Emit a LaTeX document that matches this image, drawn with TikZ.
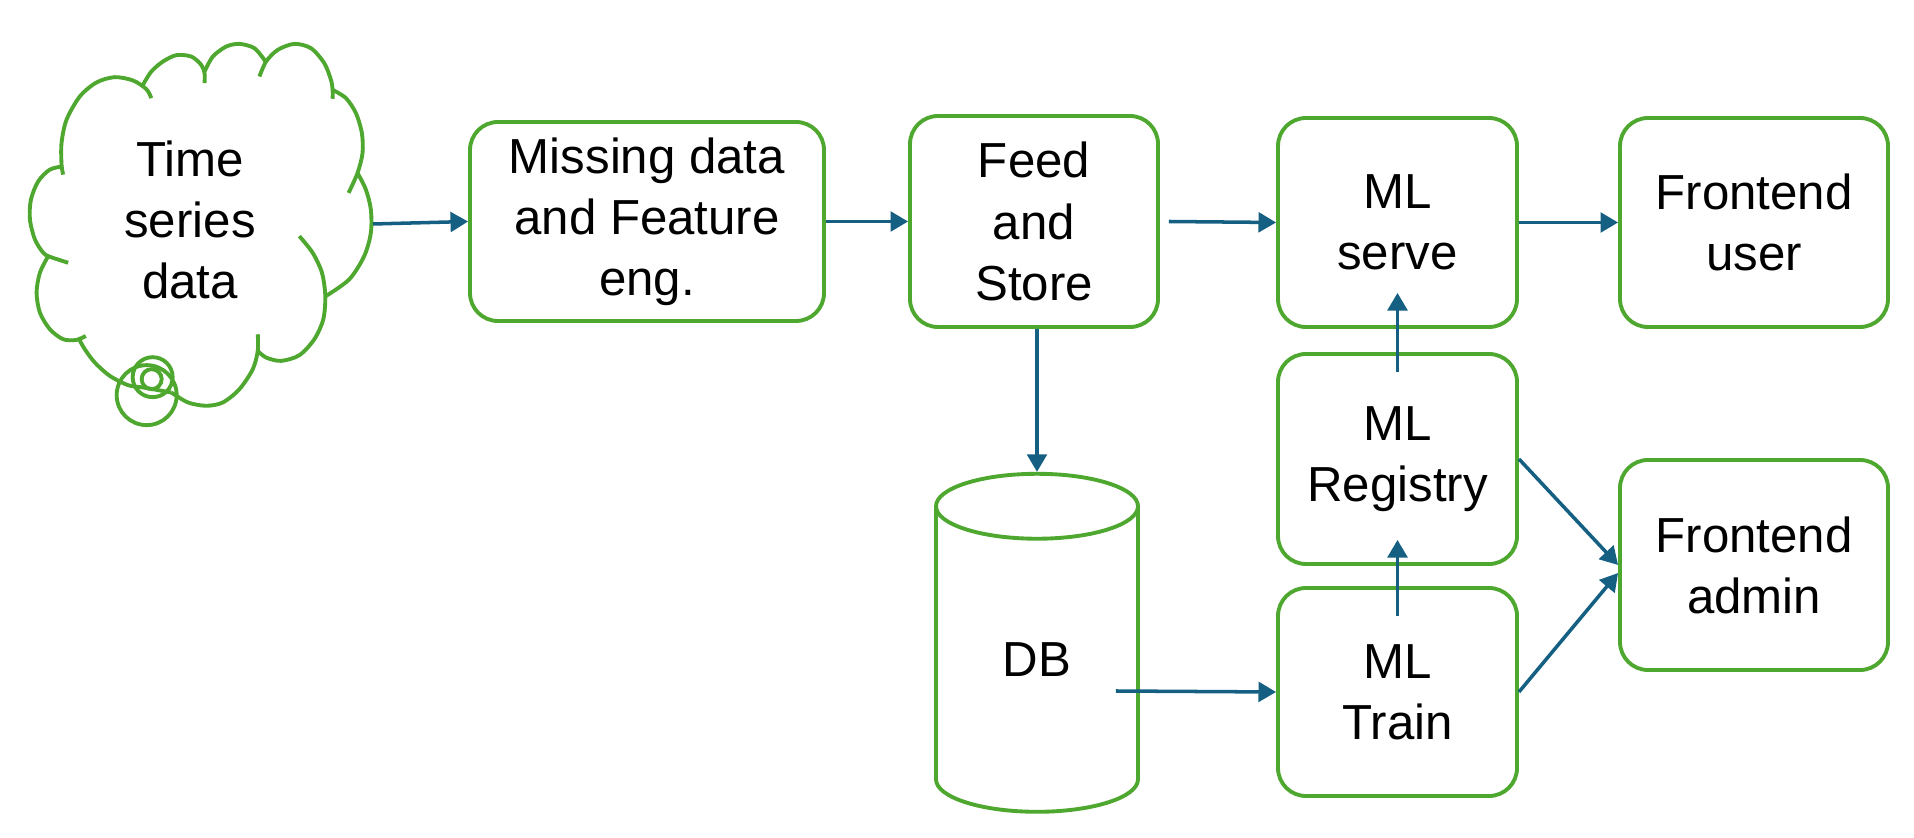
\documentclass[tikz,border=0pt]{standalone}
\usepackage{fontspec}
\setmainfont{Liberation Sans}
\usetikzlibrary{shapes.geometric,arrows.meta}
\definecolor{mlgreen}{HTML}{4EA72E}
\definecolor{mlblue}{HTML}{156082}

\begin{document}
\begin{tikzpicture}[
    box/.style={draw=mlgreen, line width=1.1pt, rounded corners=0.28cm, align=center, inner sep=0pt, font=\fontsize{14}{17.4}\selectfont},
    flow/.style={draw=mlblue, line width=1pt, -{Triangle[length=5pt,width=5.6pt]}}
  ]
  \useasboundingbox (0,0) rectangle (19.14,8.37);
  \fill[white] (0,0) rectangle (19.14,8.37);

  % cloud, traced bump by bump
  \begin{scope}[shift={(0,8.37)}, x=0.003333cm, y=-0.003333cm, mlgreen, line width=1.1pt]
    \draw plot[smooth] coordinates {(190,525) (185,495) (185,430) (200,360) (240,290) (290,248) (345,232) (400,242) (440,268) (455,295)};
    \draw plot[smooth] coordinates {(430,255) (455,215) (490,185) (530,166) (575,170) (605,195) (615,220) (615,250)};
    \draw plot[smooth] coordinates {(615,215) (640,170) (680,140) (720,132) (765,145) (797,183)};
    \draw plot[smooth] coordinates {(780,230) (800,185) (835,150) (885,132) (935,145) (975,190) (995,240) (1000,270) (1000,297)};
    \draw plot[smooth] coordinates {(1000,270) (1040,295) (1070,340) (1088,400) (1090,460) (1075,520) (1048,580)};
    \draw plot[smooth] coordinates {(1075,520) (1100,570) (1115,630) (1115,700) (1095,770) (1050,840) (980,890)};
    \draw plot[smooth] coordinates {(900,710) (940,760) (968,820) (978,890) (972,960) (945,1020) (900,1068) (845,1085) (800,1075) (775,1055)};
    \draw plot[smooth] coordinates {(775,1005) (775,1055) (760,1110) (720,1170) (670,1210) (620,1220) (565,1210) (515,1180)};
    \draw plot[smooth] coordinates {(515,1180) (470,1172) (430,1165) (385,1158) (330,1130) (285,1090) (255,1050) (235,1015)};
    \draw plot[smooth] coordinates {(145,770) (120,820) (110,880) (120,940) (150,990) (190,1020) (230,1022) (258,1010)};
    \draw plot[smooth] coordinates {(190,500) (150,510) (115,545) (93,600) (90,660) (105,720) (130,760) (150,772) (205,790)};
    \draw (441,1188) circle[radius=0.30cm];
    \draw (459,1134) circle[radius=0.20cm];
    \draw (456,1140) circle[radius=0.10cm];
  \end{scope}

  \node[align=center, font=\fontsize{14}{17.4}\selectfont] (ts) at (1.90,6.17) {Time\\series\\data};
  \coordinate (tsout) at (3.73,6.13);

  \node[box, minimum width=3.54cm, minimum height=1.99cm] (mde) at (6.47,6.155) {Missing data\\and Feature\\eng.};
  \node[box, minimum width=2.48cm, minimum height=2.11cm] (feed) at (10.34,6.155) {Feed\\and\\Store};
  \node[box, minimum width=2.39cm, minimum height=2.09cm] (serve) at (13.975,6.145) {ML\\serve};
  \node[box, minimum width=2.68cm, minimum height=2.09cm] (fuser) at (17.54,6.145) {Frontend\\user};
  \node[box, minimum width=2.39cm, minimum height=2.10cm] (reg) at (13.975,3.78) {ML\\Registry};
  \node[box, minimum width=2.39cm, minimum height=2.08cm] (train) at (13.975,1.45) {ML\\Train};
  \node[box, minimum width=2.68cm, minimum height=2.10cm] (fadmin) at (17.54,2.72) {Frontend\\admin};
  \node[cylinder, shape border rotate=90, aspect=0.95, draw=mlgreen, line width=1.1pt, minimum width=2.02cm, minimum height=3.38cm, inner sep=0pt, font=\fontsize{14}{17.4}\selectfont] (db) at (10.37,1.77) {DB};

  \draw[flow] (tsout) -- (mde.west);
  \draw[flow] ([xshift=0.09cm]feed.east) -- (serve.west);
  \draw[flow] (db.north |- feed.south) -- (db.north);
  \foreach \source/\dest in {mde.east/feed.west, serve.east/fuser.west, reg.east/fadmin.west}
    \path (\source) edge[flow] (\dest);
  \draw[flow] ([xshift=-0.24cm,yshift=-0.31cm]db.east) -- (train.west);
  \draw[flow] ([yshift=-0.2cm]reg.north) -- ([yshift=0.36cm]serve.south);
  \draw[flow] ([yshift=-0.3cm]train.north) -- ([yshift=0.26cm]reg.south);
  \draw[flow] (train.east) -- ([yshift=-0.08cm]fadmin.west);
\end{tikzpicture}
\end{document}
